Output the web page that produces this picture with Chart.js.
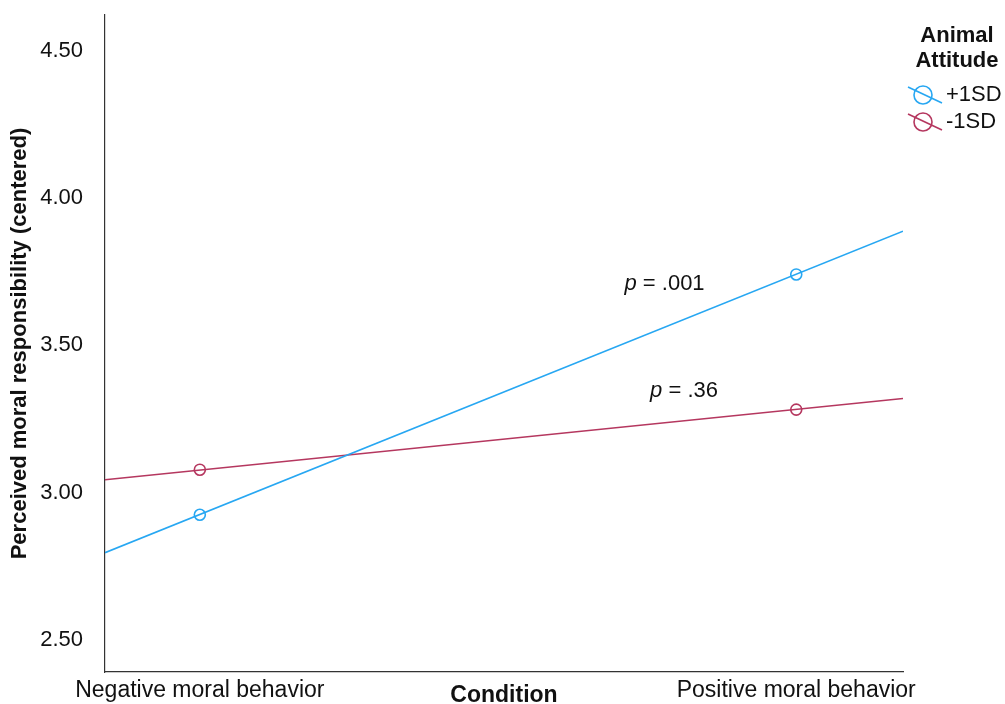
<!DOCTYPE html>
<html>
<head>
<meta charset="utf-8">
<script src="https://cdn.jsdelivr.net/npm/chart.js@4.4.1/dist/chart.umd.min.js"></script>
<style>
  html, body { margin: 0; padding: 0; background: #fff; }
  #wrap { width: 1005px; height: 704px; }
</style>
</head>
<body>
<div id="wrap"><canvas id="c" width="1005" height="704"></canvas></div>
<script>
// ---- data ----
const categories = ['Negative moral behavior', 'Positive moral behavior'];
const categoryPos = [0, 1];
const seriesNames = ['+1SD', '-1SD'];
const plusSD = [2.925, 3.741];          // marker values at the two conditions
const minusSD = [3.078, 3.282];
const xRange = [-0.159, 1.179];         // horizontal extent of the plot frame
const plusSDLine = [2.796, 3.888];      // fit line value at the left / right frame edges
const minusSDLine = [3.044, 3.320];
const yTicks = [2.5, 3.0, 3.5, 4.0, 4.5];
const yRange = [2.391, 4.622];
const pLabels = ['.001', '.36'];
const pLabelAnchors = [[0.712, 3.710], [0.755, 3.346]];
const legendTitle = ['Animal', 'Attitude'];

const BLUE = '#27a7f2';
const RED = '#b5375f';
const FONT = "'Liberation Sans', Arial, Helvetica, sans-serif";

const mkLine = (vals, color, label) => ({
  type: 'line', label, data: [{x: xRange[0], y: vals[0]}, {x: xRange[1], y: vals[1]}],
  borderColor: color, borderWidth: 1.6, pointRadius: 0, fill: false
});
const mkPts = (vals, color, label) => ({
  type: 'scatter', label, data: categoryPos.map((x, i) => ({x, y: vals[i]})),
  borderColor: color, backgroundColor: 'rgba(0,0,0,0)', pointRadius: 5.5, pointBorderWidth: 1.6,
  showLine: false
});

const overlay = {
  id: 'overlay',
  afterDraw(chart) {
    const ctx = chart.ctx;
    const xs = chart.scales.x, ys = chart.scales.y;
    ctx.save();
    // p-value annotations
    ctx.fillStyle = '#111';
    ctx.textBaseline = 'middle';
    pLabels.forEach((t, i) => {
      let px = xs.getPixelForValue(pLabelAnchors[i][0]);
      const py = ys.getPixelForValue(pLabelAnchors[i][1]);
      ctx.font = `italic 22px ${FONT}`;
      ctx.textAlign = 'left';
      ctx.fillText('p', px, py);
      px += ctx.measureText('p').width;
      ctx.font = `22px ${FONT}`;
      ctx.fillText(' = ' + t, px, py);
    });
    // legend
    ctx.fillStyle = '#111';
    ctx.textAlign = 'center';
    ctx.font = `bold 22px ${FONT}`;
    ctx.fillText(legendTitle[0], 957, 36);
    ctx.fillText(legendTitle[1], 957, 61);
    const colors = [BLUE, RED];
    seriesNames.forEach((n, i) => {
      const cy = 95 + i * 27, cx = 923;
      ctx.strokeStyle = colors[i];
      ctx.lineWidth = 1.6;
      ctx.beginPath(); ctx.arc(cx, cy, 9, 0, Math.PI * 2); ctx.stroke();
      ctx.beginPath(); ctx.moveTo(cx - 15, cy - 8); ctx.lineTo(cx + 19, cy + 8); ctx.stroke();
      ctx.fillStyle = '#111';
      ctx.textAlign = 'left';
      ctx.font = `22px ${FONT}`;
      ctx.fillText(n, 946, cy);
    });
    ctx.restore();
  }
};

new Chart(document.getElementById('c'), {
  data: {
    datasets: [
      mkLine(plusSDLine, BLUE, '+1SD line'),
      mkLine(minusSDLine, RED, '-1SD line'),
      mkPts(plusSD, BLUE, '+1SD'),
      mkPts(minusSD, RED, '-1SD')
    ]
  },
  options: {
    responsive: false,
    animation: false,
    layout: { padding: { top: 15, right: 102, left: 0, bottom: 0 } },
    plugins: { legend: { display: false }, tooltip: { enabled: false } },
    scales: {
      x: {
        type: 'linear', min: xRange[0], max: xRange[1],
        afterFit(s) { s.height = 32; s.paddingLeft = 0; s.paddingRight = 0; },
        afterBuildTicks(s) { s.ticks = categoryPos.map(v => ({value: v})); },
        grid: { display: false, drawTicks: false },
        border: { display: true, color: '#333', width: 1.2 },
        ticks: {
          autoSkip: false, maxRotation: 0, padding: 5, color: '#111',
          font: { family: FONT, size: 23 },
          callback: (v) => categories[categoryPos.indexOf(v)]
        },
        title: { display: true, text: 'Condition', color: '#111',
                 font: { family: FONT, size: 23, weight: 'bold' }, padding: { top: 0, bottom: -5 } }
      },
      y: {
        type: 'linear', min: yRange[0], max: yRange[1],
        afterFit(s) { s.width = 105; s.paddingTop = 0; s.paddingBottom = 0; },
        afterBuildTicks(s) { s.ticks = yTicks.map(v => ({value: v})); },
        grid: { display: false, drawTicks: false },
        border: { display: true, color: '#333', width: 1.2 },
        ticks: {
          padding: 22, color: '#111',
          font: { family: FONT, size: 22 },
          callback: (v) => Number(v).toFixed(2)
        },
        title: { display: true, text: 'Perceived moral responsibility (centered)', color: '#111',
                 font: { family: FONT, size: 22, weight: 'bold' }, padding: { top: 7, bottom: 0 } }
      }
    }
  },
  plugins: [overlay]
});
</script>
</body>
</html>
